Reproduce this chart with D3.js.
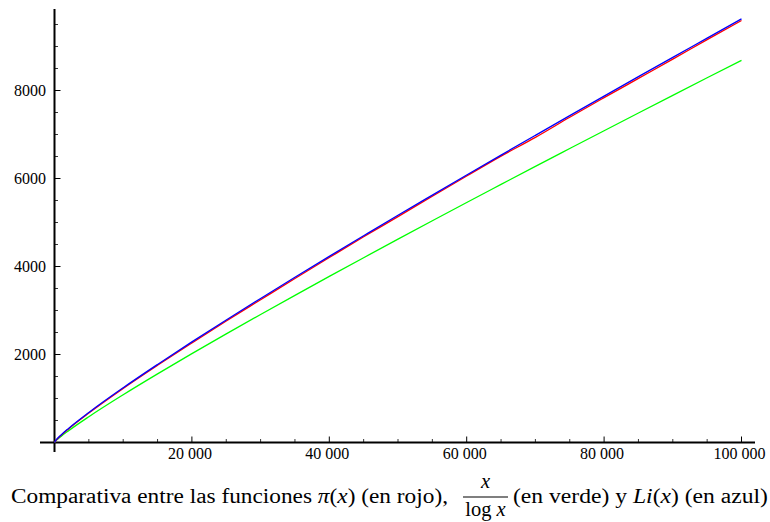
<!DOCTYPE html>
<html>
<head>
<meta charset="utf-8">
<script src="https://cdn.jsdelivr.net/npm/d3@7"></script>
<style>
  body { margin: 0; background: #fff; }
  svg { display: block; }
</style>
</head>
<body>
<svg id="paper"></svg>
<script>
// sample points (x) and the three functions
let xs = [2, 100, 500, 1000, 2000, 5000, 10000, 15000, 20000, 25000, 30000, 35000, 40000,
    45000, 50000, 55000, 60000, 65000, 70000, 75000, 80000, 85000, 90000, 95000, 100000];
let piValues = [1, 25, 95, 168, 303, 669, 1229, 1754, 2262, 2762, 3245, 3727, 4203,
    4675, 5133, 5598, 6057, 6510, 6935, 7393, 7837, 8275, 8713, 9157, 9592];
let xlogxValues = [3, 22, 80, 145, 263, 587, 1086, 1560, 2020, 2469, 2910, 3345, 3775,
    4200, 4621, 5039, 5454, 5865, 6275, 6681, 7086, 7489, 7890, 8289, 8686];
let liValues = [0, 29, 101, 177, 314, 683, 1245, 1774, 2287, 2785, 3274, 3755, 4230,
    4699, 5165, 5623, 6079, 6532, 6981, 7428, 7872, 8314, 8753, 9190, 9628];

let xMajor = [20000, 40000, 60000, 80000, 100000];
let yMajor = [2000, 4000, 6000, 8000];

let width = 770, height = 522;
let serif = "'Liberation Serif', 'Times New Roman', serif";

let svg = d3.select("#paper")
    .attr("width", width)
    .attr("height", height)
    .attr("font-family", serif);

let x = d3.scaleLinear().domain([0, 100000]).range([54.5, 741.5]);
let y = d3.scaleLinear().domain([0, 8000]).range([442.5, 90.5]);

// axes lines
svg.append("line")
    .attr("x1", 40).attr("x2", 755)
    .attr("y1", y(0)).attr("y2", y(0))
    .attr("stroke", "black").attr("stroke-width", 2);
svg.append("line")
    .attr("x1", x(0)).attr("x2", x(0))
    .attr("y1", 9).attr("y2", 452)
    .attr("stroke", "black").attr("stroke-width", 2);

// x ticks (major + minor every 5000)
let xMinor = d3.range(5000, 100001, 5000).filter(d => d % 20000 != 0);
svg.selectAll(".xminor")
    .data(xMinor)
    .enter().append("line")
    .attr("x1", d => x(d)).attr("x2", d => x(d))
    .attr("y1", y(0)).attr("y2", y(0) - 3.5)
    .attr("stroke", "black").attr("stroke-width", 0.8);
svg.selectAll(".xmajor")
    .data(xMajor)
    .enter().append("line")
    .attr("x1", d => x(d)).attr("x2", d => x(d))
    .attr("y1", y(0)).attr("y2", y(0) - 6)
    .attr("stroke", "black").attr("stroke-width", 1);
svg.selectAll(".xlabel")
    .data(xMajor)
    .enter().append("text")
    .attr("x", d => x(d) - 2)
    .attr("y", 459)
    .attr("font-size", 16)
    .style("text-anchor", "middle")
    .text(d => d3.format(",")(d).replace(",", " "));

// y ticks (major + minor every 500)
let yMinor = d3.range(500, 9501, 500).filter(d => d % 2000 != 0);
svg.selectAll(".yminor")
    .data(yMinor)
    .enter().append("line")
    .attr("x1", x(0)).attr("x2", x(0) + 3.5)
    .attr("y1", d => y(d)).attr("y2", d => y(d))
    .attr("stroke", "black").attr("stroke-width", 0.8);
svg.selectAll(".ymajor")
    .data(yMajor)
    .enter().append("line")
    .attr("x1", x(0)).attr("x2", x(0) + 6)
    .attr("y1", d => y(d)).attr("y2", d => y(d))
    .attr("stroke", "black").attr("stroke-width", 1);
svg.selectAll(".ylabel")
    .data(yMajor)
    .enter().append("text")
    .attr("x", 46)
    .attr("y", d => y(d) + 5.5)
    .attr("font-size", 16)
    .style("text-anchor", "end")
    .text(d => d);

// curves
let series = [
    {values: xlogxValues, color: "#00ff00"},
    {values: piValues, color: "#ff0000"},
    {values: liValues, color: "#0000ff"}
];
let line = d3.line()
    .x((d, i) => x(xs[i]))
    .y(d => y(d))
    .curve(d3.curveMonotoneX);
svg.selectAll(".curve")
    .data(series)
    .enter().append("path")
    .attr("d", d => line(d.values))
    .attr("fill", "none")
    .attr("stroke", d => d.color)
    .attr("stroke-width", 1.3);

// caption
let cap = svg.append("g").attr("font-size", 20.5);
let t1 = cap.append("text")
    .attr("x", 11).attr("y", 503)
    .attr("textLength", 437).attr("lengthAdjust", "spacingAndGlyphs");
t1.append("tspan").text("Comparativa entre las funciones ");
t1.append("tspan").text("π").style("font-style", "italic");
t1.append("tspan").text("(");
t1.append("tspan").text("x").style("font-style", "italic");
t1.append("tspan").text(") (en rojo),");

cap.append("text")
    .attr("x", 485.5).attr("y", 488)
    .style("text-anchor", "middle").style("font-style", "italic")
    .text("x");
cap.append("line")
    .attr("x1", 463).attr("x2", 508)
    .attr("y1", 497).attr("y2", 497)
    .attr("stroke", "black").attr("stroke-width", 1.2);
let den = cap.append("text")
    .attr("x", 485.5).attr("y", 516)
    .style("text-anchor", "middle");
den.append("tspan").text("log ");
den.append("tspan").text("x").style("font-style", "italic");

let t2 = cap.append("text")
    .attr("x", 513).attr("y", 503)
    .attr("textLength", 255).attr("lengthAdjust", "spacingAndGlyphs");
t2.append("tspan").text("(en verde) y ");
t2.append("tspan").text("Li").style("font-style", "italic");
t2.append("tspan").text("(");
t2.append("tspan").text("x").style("font-style", "italic");
t2.append("tspan").text(") (en azul)");
</script>
</body>
</html>
